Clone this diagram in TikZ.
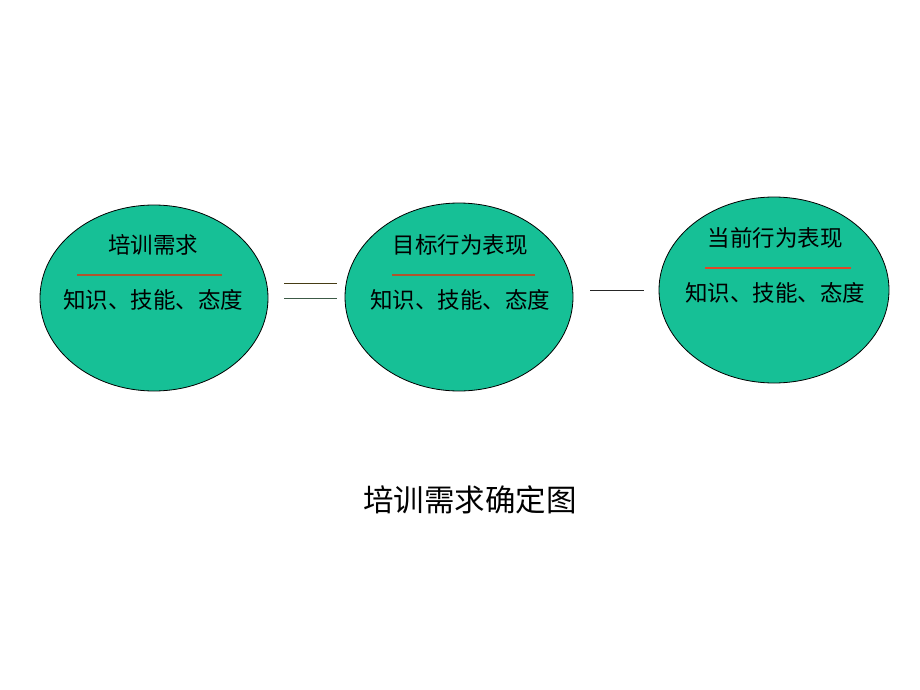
\documentclass[tikz,border=0pt]{standalone}
\usepackage{fontspec}
\usetikzlibrary{shapes.geometric}
\newfontfamily\cjk{Noto Sans CJK SC}
\definecolor{ellfill}{RGB}{22,192,150}
\definecolor{sepA}{RGB}{175,85,45}
\definecolor{sepB}{RGB}{225,70,40}
\definecolor{lnA}{RGB}{70,60,20}
\definecolor{lnB}{RGB}{60,90,70}
\begin{document}
\begin{tikzpicture}[x=1pt,y=-1pt,
  blob/.style={ellipse,draw=black,line width=0.8pt,fill=ellfill,inner sep=0pt,outer sep=0pt},
  ttl/.style={font=\cjk\fontsize{22.5}{24}\selectfont,inner sep=0pt,anchor=center},
  captxt/.style={font=\cjk\fontsize{30.5}{33}\selectfont,inner sep=0pt,anchor=center},
  sep/.style={line width=1.1pt},
  link/.style={line width=0.9pt}]
\useasboundingbox (0,0) rectangle (920,690);
% ellipses
\node[blob,minimum width=228pt,minimum height=186pt] (eL) at (154,298) {};
\node[blob,minimum width=228pt,minimum height=188pt] (eM) at (459,297) {};
\node[blob,minimum width=230pt,minimum height=186pt] (eR) at (774,290) {};
% texts
\node[ttl] (t1) at (153,245) {培训需求};
\node[ttl] (b1) at (153,300) {知识、技能、态度};
\draw[sep,sepA] (77,275) -- (222,275);
\node[ttl] (t2) at (460,245) {目标行为表现};
\node[ttl] (b2) at (460,300) {知识、技能、态度};
\draw[sep,sepA] (392,275) -- (535,275);
\node[ttl] (t3) at (775,238) {当前行为表现};
\node[ttl] (b3) at (775,293) {知识、技能、态度};
\draw[sep,sepB] (705,268) -- (851,268);
% links
\coordinate (a1) at (284,283); \coordinate (a2) at (337,283);
\coordinate (c1) at (284,298); \coordinate (c2) at (337,298);
\coordinate (d1) at (590,290); \coordinate (d2) at (644,290);
\draw[link,lnA] (a1) -- (a2);
\draw[link,lnB] (c1) -- (c2);
\draw[link,black!85] (d1) -- (d2);
% caption
\node[captxt] (capt) at (470,500) {培训需求确定图};
\end{tikzpicture}
\end{document}
